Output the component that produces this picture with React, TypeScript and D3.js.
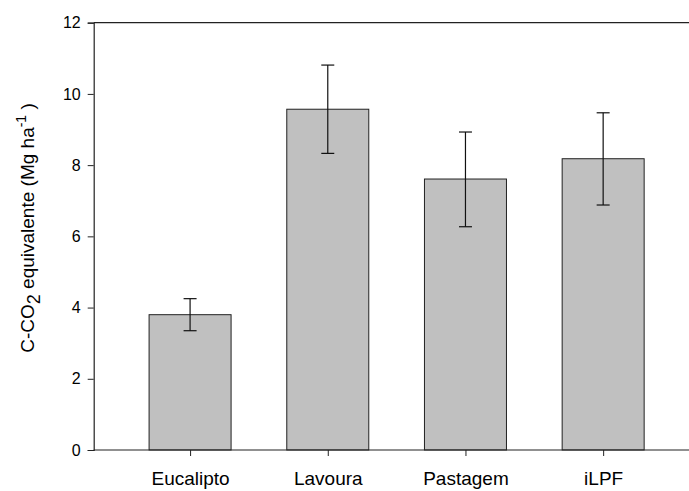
import * as d3 from "d3";
import React, { useEffect, useRef } from "react";

const categories = ["Eucalipto", "Lavoura", "Pastagem", "iLPF"];
const means = [3.8, 9.57, 7.61, 8.18];
const upper = [4.25, 10.81, 8.93, 9.47];
const lower = [3.35, 8.33, 6.27, 6.88];
const yTicks = [0, 2, 4, 6, 8, 10, 12];

export default function App() {
    const svgRef = useRef<SVGSVGElement>(null);

    useEffect(() => {
        const svg = d3.select(svgRef.current);
        svg.selectAll("*").remove();

        const font = "'Liberation Sans', Arial, sans-serif";

        // scales (right side of the frame is cut by the picture)
        const x = d3.scaleLinear().domain([0.3, 4.5]).range([93.7, 672]);
        const y = d3.scaleLinear().domain([0, 12]).range([450, 22.7]);
        const barW = 82;

        const g = svg.append("g");

        // bars
        g.selectAll(".bar")
            .data(means)
            .join("rect")
            .attr("class", "bar")
            .attr("x", (d, i) => x(i + 1) - barW / 2)
            .attr("y", (d) => y(d))
            .attr("width", barW)
            .attr("height", (d) => y(0) - y(d))
            .attr("fill", "#c0c0c0")
            .attr("stroke", "#222")
            .attr("stroke-width", 1);

        // error bars
        const err = g.selectAll(".err").data(means).join("g").attr("class", "err");
        err.append("line")
            .attr("x1", (d, i) => x(i + 1))
            .attr("x2", (d, i) => x(i + 1))
            .attr("y1", (d, i) => y(lower[i]))
            .attr("y2", (d, i) => y(upper[i]))
            .attr("stroke", "#111")
            .attr("stroke-width", 1.2);
        [upper, lower].forEach((arr) => {
            err.append("line")
                .attr("x1", (d, i) => x(i + 1) - 6.5)
                .attr("x2", (d, i) => x(i + 1) + 6.5)
                .attr("y1", (d, i) => y(arr[i]))
                .attr("y2", (d, i) => y(arr[i]))
                .attr("stroke", "#111")
                .attr("stroke-width", 1.2);
        });

        // frame lines: top, bottom
        g.append("line").attr("x1", x(0.3)).attr("x2", 700).attr("y1", y(12)).attr("y2", y(12))
            .attr("stroke", "#222").attr("stroke-width", 1.2);
        g.append("line").attr("x1", x(0.3)).attr("x2", 700).attr("y1", y(0)).attr("y2", y(0))
            .attr("stroke", "#222").attr("stroke-width", 1.2);

        // y axis
        const yAxis = d3.axisLeft(y).tickValues(yTicks).tickSize(6).tickPadding(7).tickFormat(d3.format("d"));
        const ya = g.append("g").attr("transform", `translate(${x(0.3)},0)`).call(yAxis);
        ya.select(".domain").attr("stroke", "#222").attr("stroke-width", 1.2);
        ya.selectAll(".tick line").attr("stroke", "#222");
        ya.selectAll(".tick text").attr("font-family", font).attr("font-size", 16).attr("fill", "#000");

        // x axis
        const xAxis = d3.axisBottom(x).tickValues([1, 2, 3, 4]).tickSize(6).tickPadding(16)
            .tickFormat((d) => categories[(d as number) - 1]);
        const xa = g.append("g").attr("transform", `translate(0,${y(0)})`).call(xAxis);
        xa.select(".domain").remove();
        xa.selectAll(".tick line").attr("stroke", "#222");
        xa.selectAll(".tick text").attr("font-family", font).attr("font-size", 19).attr("fill", "#000");

        // y label
        const label = g.append("text")
            .attr("transform", `translate(34,228) rotate(-90)`)
            .attr("text-anchor", "middle")
            .attr("font-family", font)
            .attr("font-size", 19)
            .attr("fill", "#000");
        label.append("tspan").text("C-CO");
        label.append("tspan").attr("dy", 6).attr("font-size", 18).text("2");
        label.append("tspan").attr("dy", -6).text(" equivalente (Mg ha");
        label.append("tspan").attr("dy", -8).attr("font-size", 14).text("-1");
        label.append("tspan").attr("dy", 8).text(" )");
    }, []);

    return (
        <svg ref={svgRef} width={689} height={491} style={{ position: "absolute", left: 0, top: 0 }} />
    );
}
